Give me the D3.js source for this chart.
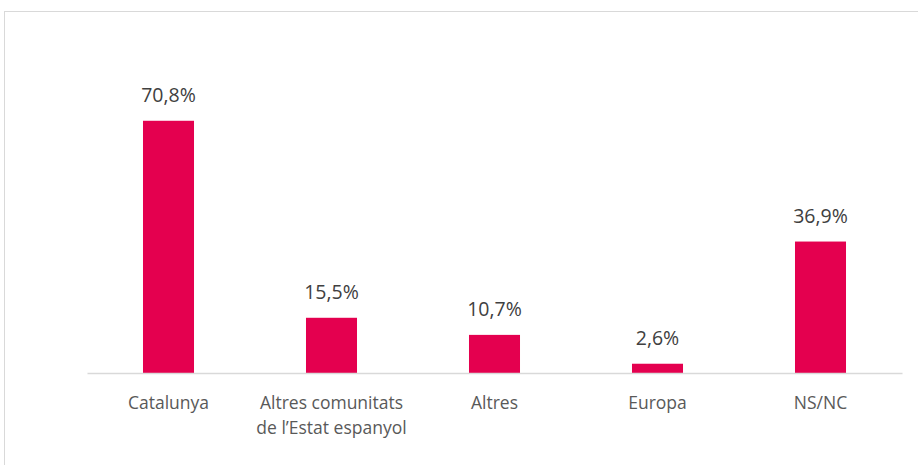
<!DOCTYPE html>
<html>
<head>
<meta charset="utf-8">
<script src="https://cdn.jsdelivr.net/npm/d3@7"></script>
<style>
  body { margin: 0; background: #fff; }
  svg { display: block; }
</style>
</head>
<body>
<svg></svg>
<script>
let categories = ["Catalunya", "Altres comunitats\nde l\u2019Estat espanyol", "Altres", "Europa", "NS/NC"];
let values = [70.8, 15.5, 10.7, 2.6, 36.9];
let valueLabels = ["70,8%", "15,5%", "10,7%", "2,6%", "36,9%"];

window.addEventListener('load', e => {
    drawChart();
});

function drawChart() {
    let width = 918;
    let height = 465;
    let left = 87;
    let right = 902;
    let baseline = 373;

    let svg = d3.select("svg")
        .attr("width", width)
        .attr("height", height);

    // chart frame
    svg.append("rect")
        .attr("x", 4.5)
        .attr("y", 11.5)
        .attr("width", width + 10)
        .attr("height", height + 10)
        .attr("fill", "none")
        .attr("stroke", "#d9d9d9")
        .attr("stroke-width", 1);

    let xScale = d3.scaleBand()
                   .domain(categories)
                   .range([left, right])
                   .paddingInner(0.687)
                   .paddingOuter(0.3435);

    let yScale = d3.scaleLinear()
                   .domain([0, 80])
                   .range([baseline, baseline - 285]);

    svg.selectAll(".bar")
        .data(values)
        .enter()
        .append("rect")
        .attr("class", "bar")
        .attr("x", (d, i) => xScale(categories[i]))
        .attr("y", d => yScale(d))
        .attr("width", xScale.bandwidth())
        .attr("height", d => baseline - yScale(d))
        .attr("fill", "#e4004f");

    svg.selectAll(".val")
        .data(values)
        .enter()
        .append("text")
        .attr("class", "val")
        .attr("x", (d, i) => xScale(categories[i]) + xScale.bandwidth() / 2)
        .attr("y", d => yScale(d) - 19)
        .attr("text-anchor", "middle")
        .attr("font-family", "'Open Sans', sans-serif")
        .attr("font-size", 19.5)
        .attr("fill", "#404040")
        .text((d, i) => valueLabels[i]);

    let axis = svg.append("g")
        .attr("transform", "translate(0," + baseline + ")")
        .call(d3.axisBottom(xScale).tickSize(0).tickPadding(0).tickFormat(""));

    axis.select(".domain")
        .attr("stroke", "#d9d9d9")
        .attr("stroke-width", 1.5);

    axis.selectAll(".tick").each(function(d) {
        let lines = d.split("\n");
        let t = d3.select(this).append("text")
            .attr("text-anchor", "middle")
            .attr("font-family", "'Open Sans', sans-serif")
            .attr("font-size", 17.5)
            .attr("fill", "#595959");
        lines.forEach((l, i) => {
            t.append("tspan")
                .attr("x", 0)
                .attr("y", 36 + i * 25)
                .text(l);
        });
    });
}
</script>
</body>
</html>
